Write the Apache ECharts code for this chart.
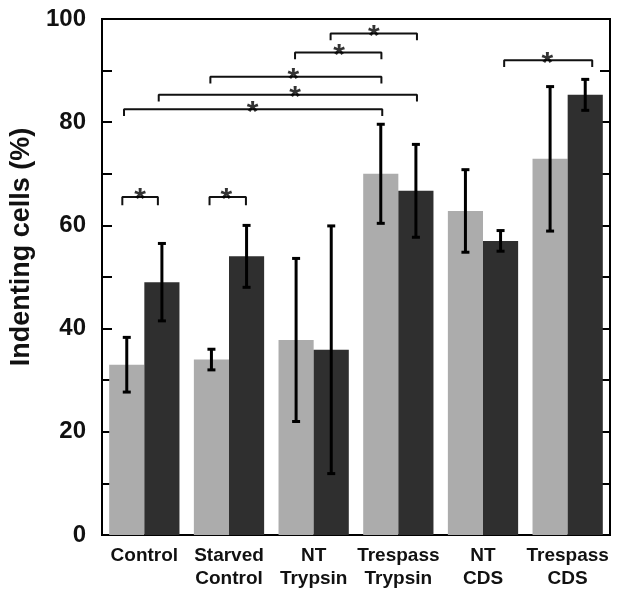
<!DOCTYPE html>
<html>
<head>
  <meta charset="utf-8">
  <title>Indenting cells</title>
  <script src="https://cdn.jsdelivr.net/npm/echarts@6/dist/echarts.min.js"></script>
  <style>
    html, body { margin: 0; padding: 0; background: #fff; }
    #chart { width: 617px; height: 592px; }
  </style>
</head>
<body>
  <div id="chart"></div>
  <script>
    // groups and values (%)
    const categories = ['Control', 'Starved\nControl', 'NT\nTrypsin', 'Trespass\nTrypsin', 'NT\nCDS', 'Trespass\nCDS'];
    const lightValues = [33, 34, 37.8, 70, 62.8, 72.9];
    const lightErr = [5.3, 2, 15.8, 9.6, 8, 14];
    const darkValues = [49, 54, 35.9, 66.7, 57, 85.3];
    const darkErr = [7.5, 6, 24, 9, 2, 3];

    // significance brackets, x in category units (0..6), y in %
    const bracketStart = [0.24, 1.27, 0.26, 0.67, 1.28, 2.28, 2.70, 4.75];
    const bracketEnd = [0.66, 1.70, 3.31, 3.72, 3.30, 3.30, 3.72, 5.79];
    const bracketY = [65.5, 65.5, 82.5, 85.3, 88.8, 93.5, 97.2, 92];
    const bracketDrop = [1.6, 1.6, 1.3, 1.3, 1.3, 1.3, 1.3, 1.3];
    const starX = [0.45, 1.47, 1.78, 2.28, 2.26, 2.80, 3.21, 5.26];

    const yTicks = [0, 20, 40, 60, 80, 100];

    const chart = echarts.init(document.getElementById('chart'));
    const font = 'Liberation Sans, Arial, sans-serif';

    function errorSeries(values, errs, side) {
      return {
        type: 'custom',
        xAxisIndex: 0,
        yAxisIndex: 0,
        z: 5,
        data: values.map(function (v, i) { return [i, v - errs[i], v + errs[i]]; }),
        renderItem: function (params, api) {
          const band = api.size([1, 0])[0];
          const off = band * 0.83 / 4 * side;
          const lo = api.coord([api.value(0), api.value(1)]);
          const hi = api.coord([api.value(0), api.value(2)]);
          const x = lo[0] + off;
          const cap = 4;
          const style = { stroke: '#000', lineWidth: 3 };
          return {
            type: 'group',
            children: [
              { type: 'line', shape: { x1: x, y1: lo[1], x2: x, y2: hi[1] }, style: style },
              { type: 'line', shape: { x1: x - cap, y1: lo[1], x2: x + cap, y2: lo[1] }, style: style },
              { type: 'line', shape: { x1: x - cap, y1: hi[1], x2: x + cap, y2: hi[1] }, style: style }
            ]
          };
        }
      };
    }

    const bracketSeries = bracketStart.map(function (x1, i) {
      const x2 = bracketEnd[i];
      const y = bracketY[i];
      const d = bracketDrop[i];
      return {
        type: 'line',
        xAxisIndex: 1,
        yAxisIndex: 0,
        symbol: 'none',
        silent: true,
        z: 6,
        lineStyle: { color: '#111', width: 2 },
        data: [[x1, y - d], [x1, y], [x2, y], [x2, y - d]]
      };
    });

    const option = {
      animation: false,
      backgroundColor: '#fff',
      grid: {
        left: 102, top: 19, right: 7, bottom: 57,
        show: true, borderColor: '#000', borderWidth: 2, backgroundColor: 'transparent'
      },
      xAxis: [
        {
          type: 'category',
          data: categories,
          axisLine: { lineStyle: { color: '#000', width: 2 } },
          axisTick: { show: false },
          axisLabel: {
            color: '#111', fontFamily: font, fontWeight: 'bold', fontSize: 19,
            lineHeight: 23, margin: 9, interval: 0
          }
        },
        { type: 'value', min: 0, max: 6, show: false }
      ],
      yAxis: [
        {
          type: 'value',
          min: 0, max: 100, interval: 20,
          name: 'Indenting cells (%)',
          nameLocation: 'middle',
          nameGap: 62,
          nameTextStyle: {
            color: '#111', fontFamily: font, fontWeight: 'bold', fontSize: 27,
            padding: [0, 0, 0, 60]
          },
          axisLine: { show: true, lineStyle: { color: '#000', width: 2 } },
          axisTick: { show: true, inside: true, length: 10, lineStyle: { color: '#000', width: 2 } },
          minorTick: { show: true, splitNumber: 2, length: 10, lineStyle: { color: '#000', width: 2 } },
          splitLine: { show: false },
          axisLabel: {
            color: '#111', fontFamily: font, fontWeight: 'bold', fontSize: 24, margin: 16,
            formatter: function (v) { return yTicks.indexOf(v) >= 0 ? String(v) : ''; }
          }
        },
        {
          type: 'value',
          position: 'right',
          min: 0, max: 100, interval: 20,
          axisLine: { show: true, lineStyle: { color: '#000', width: 2 } },
          axisTick: { show: true, inside: true, length: 10, lineStyle: { color: '#000', width: 2 } },
          minorTick: { show: true, splitNumber: 2, length: 10, lineStyle: { color: '#000', width: 2 } },
          splitLine: { show: false },
          axisLabel: { show: false }
        }
      ],
      series: [
        {
          name: 'light',
          type: 'bar',
          data: lightValues,
          barGap: '0%',
          barCategoryGap: '17%',
          itemStyle: { color: '#acacac' }
        },
        {
          name: 'dark',
          type: 'bar',
          data: darkValues,
          barGap: '0%',
          barCategoryGap: '17%',
          itemStyle: { color: '#2f2f2f' }
        },
        errorSeries(lightValues, lightErr, -1),
        errorSeries(darkValues, darkErr, 1)
      ].concat(bracketSeries).concat([
        {
          type: 'scatter',
          xAxisIndex: 1,
          yAxisIndex: 0,
          symbolSize: 1,
          itemStyle: { color: 'transparent' },
          z: 7,
          data: starX.map(function (x, i) { return [x, bracketY[i]]; }),
          label: {
            show: true,
            position: 'inside',
            formatter: '*',
            color: '#000',
            fontFamily: font,
            fontWeight: 'bold',
            fontSize: 30,
            offset: [0, 3]
          }
        }
      ])
    };

    chart.setOption(option);
  </script>
</body>
</html>
